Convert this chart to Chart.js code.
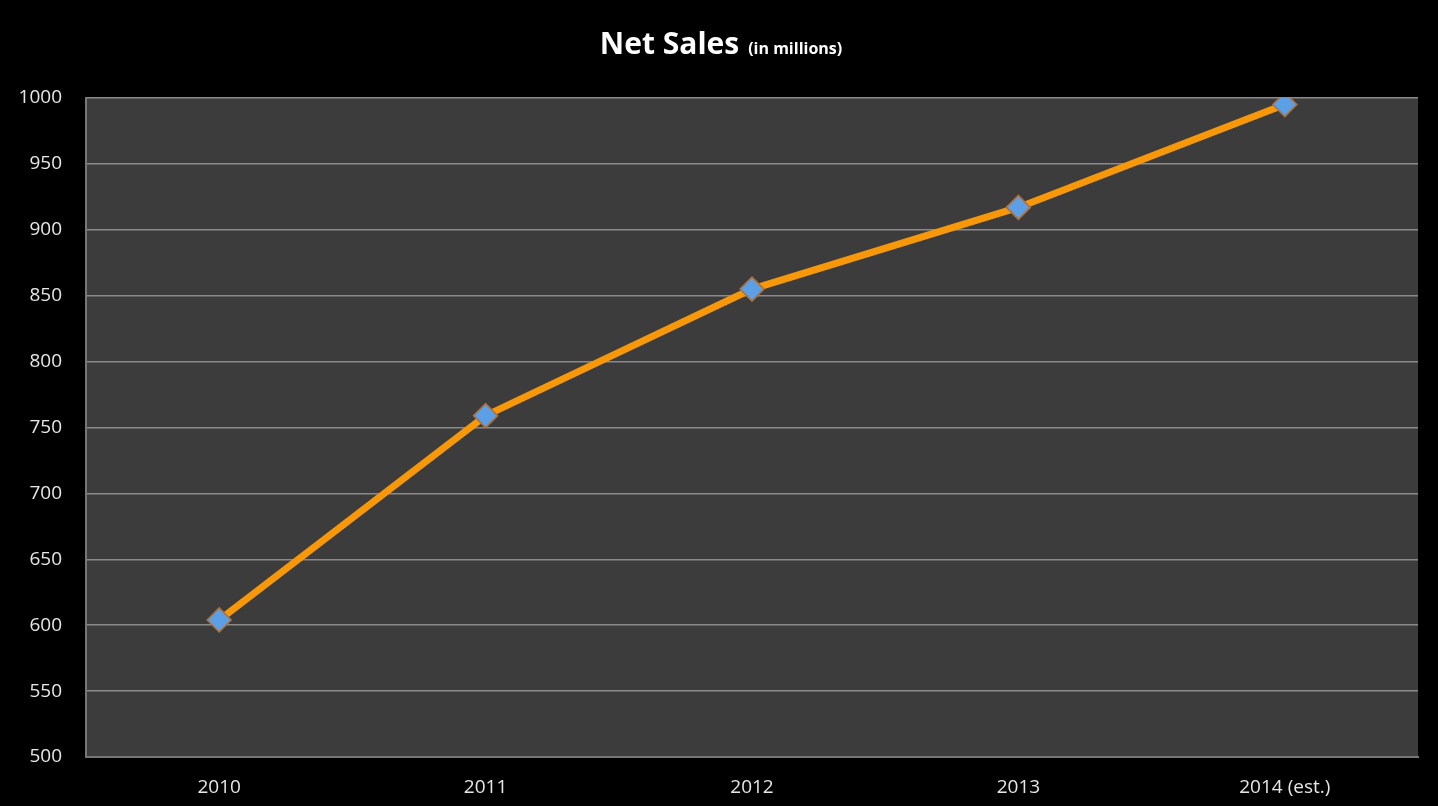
<!DOCTYPE html>
<html>
<head>
<meta charset="utf-8">
<script src="https://cdn.jsdelivr.net/npm/chart.js@4"></script>
<style>
  html, body { margin: 0; padding: 0; background: #000; }
  #wrap { width: 1438px; height: 806px; }
</style>
</head>
<body>
<div id="wrap"><canvas id="salesChart"></canvas></div>
<script>
// Net sales, in millions
const years = ['2010', '2011', '2012', '2013', '2014 (est.)'];
const netSales = [604, 759, 855, 917, 995];
const yMin = 500, yMax = 1000, yStep = 50;

const FONT = '"Open Sans", "Liberation Sans", sans-serif';

// dark plot area + two-size title
const backdrop = {
    id: 'backdrop',
    beforeDraw(chart) {
        const { ctx, chartArea: a } = chart;
        ctx.save();
        ctx.fillStyle = '#000';
        ctx.fillRect(0, 0, chart.width, chart.height);
        ctx.fillStyle = '#3c3c3c';
        ctx.fillRect(a.left, a.top, a.right - a.left, a.bottom - a.top);
        ctx.restore();
    },
    afterDraw(chart) {
        const { ctx } = chart;
        const big = 'Net Sales', small = '(in millions)', gap = 9;
        ctx.save();
        ctx.fillStyle = '#fff';
        ctx.textBaseline = 'alphabetic';
        ctx.font = 'bold 30px ' + FONT;
        const w1 = ctx.measureText(big).width;
        ctx.font = 'bold 16px ' + FONT;
        const w2 = ctx.measureText(small).width;
        const x = 721 - (w1 + gap + w2) / 2;
        ctx.font = 'bold 30px ' + FONT;
        ctx.fillText(big, x, 54);
        ctx.font = 'bold 16px ' + FONT;
        ctx.fillText(small, x + w1 + gap, 54);
        ctx.restore();
    }
};

new Chart(document.getElementById('salesChart'), {
    type: 'line',
    data: {
        labels: years,
        datasets: [{
            data: netSales,
            borderColor: '#f7980b',
            borderWidth: 7,
            pointStyle: 'rectRot',
            pointRadius: 12,
            pointBackgroundColor: '#5d9fe4',
            pointBorderColor: '#b0703a',
            pointBorderWidth: 1.5,
            tension: 0
        }]
    },
    options: {
        responsive: true,
        maintainAspectRatio: false,
        animation: false,
        layout: { padding: { top: 98, right: 20, left: 0, bottom: 0 } },
        plugins: { legend: { display: false }, tooltip: { enabled: false } },
        scales: {
            x: {
                offset: true,
                grid: { display: false, drawTicks: false },
                border: { color: '#777', width: 2 },
                ticks: { color: '#e6e6e6', font: { family: FONT, size: 19 }, padding: 19 },
                afterFit(s) { s.height = 49; }
            },
            y: {
                min: yMin,
                max: yMax,
                grid: { color: '#8a8a8a', lineWidth: 1.5, drawTicks: false },
                border: { color: '#777', width: 2 },
                ticks: {
                    stepSize: yStep,
                    color: '#e6e6e6',
                    font: { family: FONT, size: 19 },
                    padding: 24,
                    callback: v => String(v)
                },
                afterFit(s) { s.width = 86; }
            }
        }
    },
    plugins: [backdrop]
});
</script>
</body>
</html>
